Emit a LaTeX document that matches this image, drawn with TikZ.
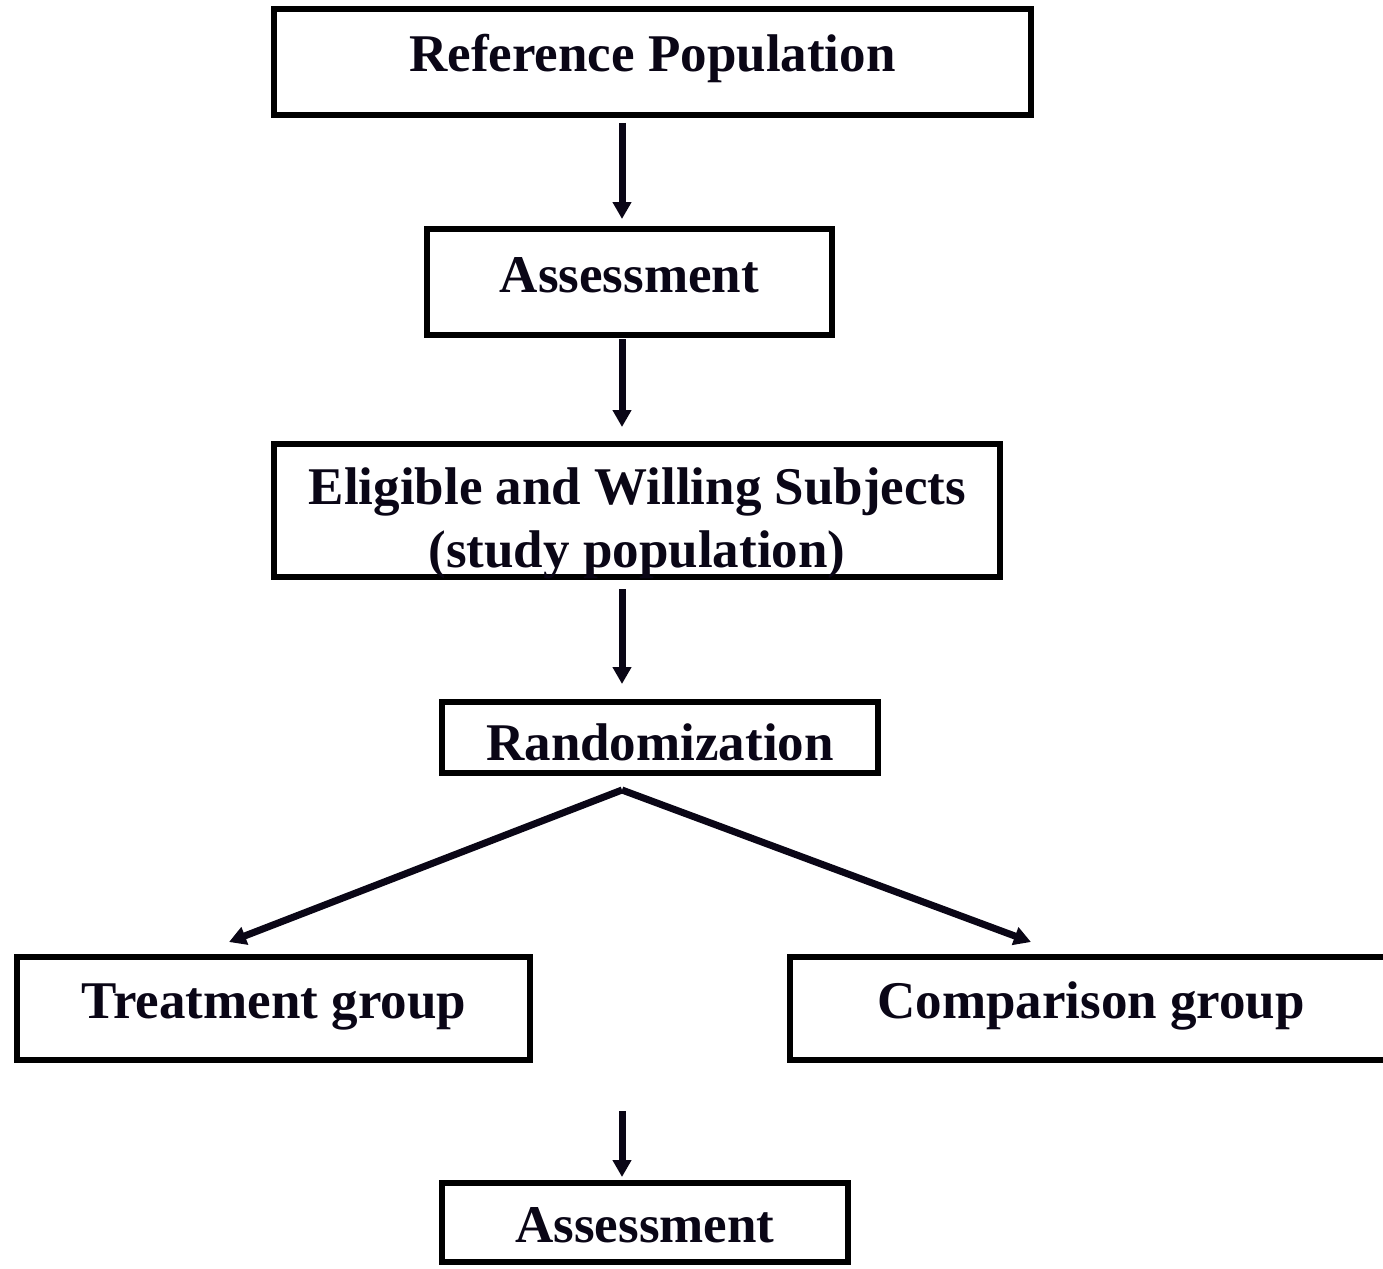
\documentclass[tikz,border=0pt]{standalone}
\usepackage{fontspec}
\setmainfont{Liberation Serif}
\usetikzlibrary{arrows.meta}
\definecolor{ink}{RGB}{10,6,22}
\tikzset{
  box/.style={draw=black, line width=6.5pt, inner sep=0pt, fill=none},
  lbl/.style={anchor=base, inner sep=0pt, text=ink, font=\fontsize{53}{60}\selectfont\bfseries},
  arr/.style={draw=ink, line width=7pt, -{Triangle[length=17pt,width=18pt]}},
}
\begin{document}
\begin{tikzpicture}[x=1pt,y=-1pt]
\useasboundingbox (0,0) rectangle (1383,1268);
\fill[white] (0,0) rectangle (1383,1268);
\clip (0,0) rectangle (1383,1268);
% boxes
\node[box, minimum width=757pt, minimum height=106pt] (b1) at (652.5,62) {};
\node[box, minimum width=405pt, minimum height=106pt] (b2) at (629.5,282) {};
\node[box, minimum width=726pt, minimum height=133pt] (b3) at (637,510.5) {};
\node[box, minimum width=436pt, minimum height=71pt] (b4) at (660,737.5) {};
\node[box, minimum width=513pt, minimum height=103pt] (b5) at (273.5,1008.5) {};
\node[box, minimum width=620pt, minimum height=103pt] (b6) at (1100,1008.5) {};
\node[box, minimum width=406pt, minimum height=79pt] (b7) at (645,1222.5) {};
% texts
\node[lbl] (t1) at (652.5,72) {Reference Population};
\node[lbl] (t2) at (629.5,292) {Assessment};
\node[lbl] (t3a) at (637.5,504) {Eligible and Willing Subjects};
\node[lbl] (t3b) at (637,567) {(study population)};
\node[lbl] (t4) at (660,760) {Randomization};
\node[lbl] (t5) at (274,1018) {Treatment group};
\node[lbl] (t6) at (1091,1018) {Comparison group};
\node[lbl] (t7) at (645,1242) {Assessment};
% connector coordinates
\coordinate (a1s) at (622,123);
\coordinate (a1e) at (622,219);
\coordinate (a2s) at (622,339);
\coordinate (a2e) at (622,427);
\coordinate (a3s) at (622,589);
\coordinate (a3e) at (622,684);
\coordinate (apex) at (622,790);
\coordinate (lend) at (229,942);
\coordinate (rend) at (1031,942);
\coordinate (a4s) at (622,1111);
\coordinate (a4e) at (622,1177);
% connectors
\draw[arr] (a1s) -- (a1e);
\draw[arr] (a2s) -- (a2e);
\draw[arr] (a3s) -- (a3e);
\draw[arr] (apex) -- (lend);
\draw[arr] (apex) -- (rend);
\draw[arr] (a4s) -- (a4e);
\end{tikzpicture}
\end{document}
